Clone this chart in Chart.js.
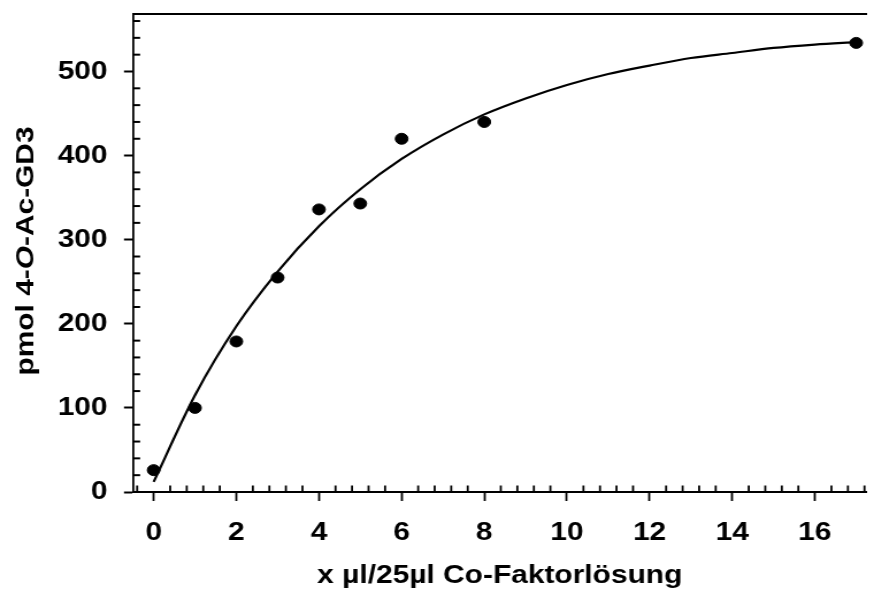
<!DOCTYPE html>
<html>
<head>
<meta charset="utf-8">
<script src="https://cdn.jsdelivr.net/npm/chart.js@4/dist/chart.umd.min.js"></script>
<style>
  html, body { margin: 0; padding: 0; background: #fff; }
  #c { display: block; width: 874px; height: 604px; }
</style>
</head>
<body>
<canvas id="c" width="760" height="604" style="width:874px;height:604px;"></canvas>
<script>
// ---- data ----
const pointX = [0, 1, 2, 3, 4, 5, 6, 8, 17];
const pointY = [26, 100, 179, 255, 336, 343, 420, 440, 534];
const curveX = [0, 1, 2, 3, 4, 5, 6, 7, 8, 9, 10, 11, 12, 13, 14, 15, 16, 17];
const curveY = [12, 115, 197, 262, 316, 360, 396, 425, 449, 468, 484, 497, 507, 516, 522, 528, 532, 535];
const xTickValues = [0, 2, 4, 6, 8, 10, 12, 14, 16];
const yTickValues = [0, 100, 200, 300, 400, 500];
const xTitle = 'x µl/25µl Co-Faktorlösung';
const yTitleParts = [['pmol 4-', false], ['O', true], ['-Ac-GD3', false]];

const S = 874 / 760; // horizontal stretch of the original artwork
const FONT = 'Liberation Sans, Arial, Helvetica, sans-serif';
const FS = 26;

const minorTicks = {
  id: 'minorTicks',
  afterDraw(chart) {
    const ctx = chart.ctx, xs = chart.scales.x, ys = chart.scales.y, a = chart.chartArea;
    ctx.save();
    ctx.strokeStyle = '#000';
    ctx.lineCap = 'butt';
    ctx.lineWidth = 1.8;
    for (let i = -1; i * 0.4 <= xs.max + 1e-9; i++) {
      if (i % 5 === 0) continue;
      const px = xs.getPixelForValue(i * 0.4);
      if (px < a.left + 1) continue;
      ctx.beginPath(); ctx.moveTo(px, a.bottom); ctx.lineTo(px, a.bottom - 6.5); ctx.stroke();
    }
    ctx.lineWidth = 2;
    for (let i = 1; i * 20 <= ys.max + 1e-9; i++) {
      if (i % 5 === 0) continue;
      const py = ys.getPixelForValue(i * 20);
      ctx.beginPath(); ctx.moveTo(a.left, py); ctx.lineTo(a.left + 6.2, py); ctx.stroke();
    }
    ctx.restore();
  }
};

const yTitlePlugin = {
  id: 'yTitle',
  afterDraw(chart) {
    const ctx = chart.ctx;
    ctx.save();
    ctx.translate(33 / S, 251);
    ctx.scale(1 / S, S);
    ctx.rotate(-Math.PI / 2);
    ctx.fillStyle = '#000';
    ctx.textBaseline = 'alphabetic';
    ctx.textAlign = 'left';
    const fonts = yTitleParts.map(p => (p[1] ? 'italic ' : '') + 'bold ' + FS + 'px ' + FONT);
    let total = 0;
    const widths = yTitleParts.map((p, i) => { ctx.font = fonts[i]; const w = ctx.measureText(p[0]).width; total += w; return w; });
    let x = -total / 2;
    yTitleParts.forEach((p, i) => { ctx.font = fonts[i]; ctx.fillText(p[0], x, 0); x += widths[i]; });
    ctx.restore();
  }
};

new Chart(document.getElementById('c'), {
  type: 'scatter',
  data: {
    datasets: [
      {
        label: 'Messwerte',
        data: pointX.map((x, i) => ({ x, y: pointY[i] })),
        backgroundColor: '#000',
        borderColor: '#000',
        pointRadius: 5.5,
        pointHoverRadius: 5.5,
        showLine: false,
        order: 0
      },
      {
        label: 'Kurve',
        data: curveX.map((x, i) => ({ x, y: curveY[i] })),
        showLine: true,
        borderColor: '#000',
        borderWidth: 2.2,
        pointRadius: 0,
        fill: false,
        cubicInterpolationMode: 'monotone',
        order: 1
      }
    ]
  },
  options: {
    responsive: false,
    animation: false,
    devicePixelRatio: 1,
    layout: { padding: 0 },
    plugins: { legend: { display: false }, tooltip: { enabled: false } },
    scales: {
      x: {
        type: 'linear',
        position: 'bottom',
        min: -0.5,
        max: 17.25,
        afterFit(scale) { scale.height = 112; scale.paddingLeft = 0; scale.paddingRight = 0; },
        afterBuildTicks(scale) { scale.ticks = xTickValues.map(v => ({ value: v })); },
        ticks: {
          autoSkip: false,
          includeBounds: false,
          maxRotation: 0,
          color: '#000',
          padding: 16.5,
          font: { family: FONT, weight: 'bold', size: FS }
        },
        grid: { drawOnChartArea: false, drawTicks: true, tickLength: 9, tickWidth: 1.8, tickColor: '#000' },
        border: { display: true, color: '#000', width: 2 },
        title: {
          display: true,
          text: xTitle,
          color: '#000',
          font: { family: FONT, weight: 'bold', size: FS },
          padding: { top: 0, bottom: 13 }
        }
      },
      x2: {
        type: 'linear',
        position: 'top',
        min: -0.5,
        max: 17.25,
        afterFit(scale) { scale.height = 14.3; scale.paddingLeft = 0; scale.paddingRight = 0; },
        ticks: { display: false },
        grid: { display: false, drawTicks: false },
        border: { display: true, color: '#000', width: 2 }
      },
      y: {
        type: 'linear',
        position: 'left',
        min: 0,
        max: 568,
        afterFit(scale) { scale.width = 133 / S; scale.paddingTop = 0; scale.paddingBottom = 0; },
        afterBuildTicks(scale) { scale.ticks = yTickValues.map(v => ({ value: v })); },
        ticks: {
          autoSkip: false,
          includeBounds: false,
          color: '#000',
          padding: 14.3,
          font: { family: FONT, weight: 'bold', size: FS }
        },
        grid: { drawOnChartArea: false, drawTicks: true, tickLength: 9 / S, tickWidth: 2, tickColor: '#000' },
        border: { display: true, color: '#000', width: 1.8 }
      }
    }
  },
  plugins: [minorTicks, yTitlePlugin]
});
</script>
</body>
</html>
